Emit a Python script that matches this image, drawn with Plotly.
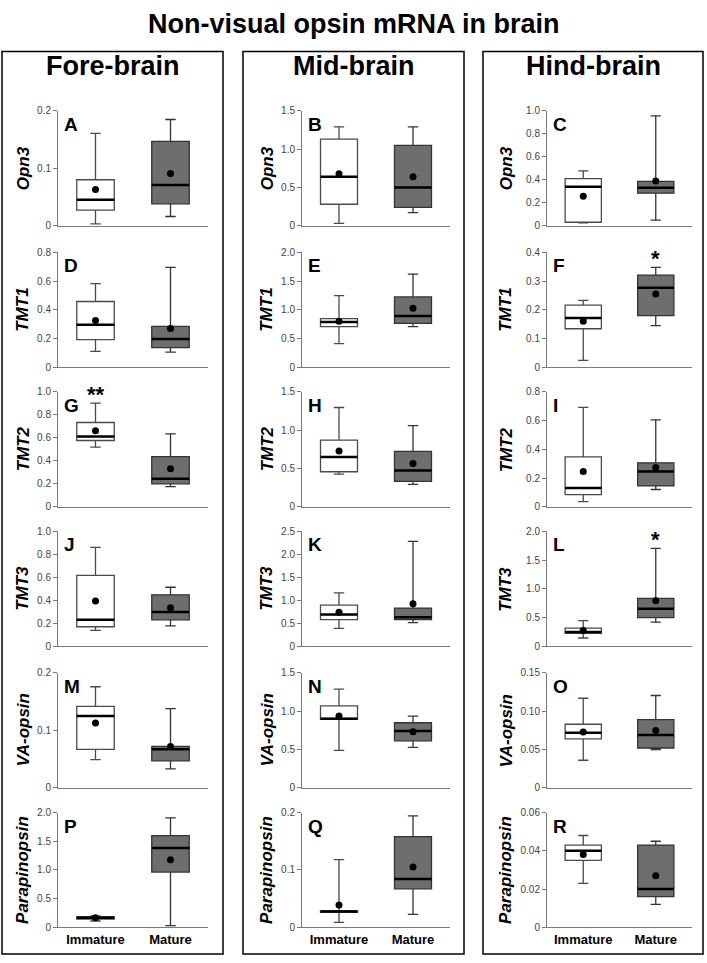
import plotly.graph_objects as go

W, H = 707, 963

# ---------------- data ----------------
regions = ["Fore-brain", "Mid-brain", "Hind-brain"]
genes = ["Opn3", "TMT1", "TMT2", "TMT3", "VA-opsin", "Parapinopsin"]
groups = ["Immature", "Mature"]
letters = [["A", "B", "C"], ["D", "E", "F"], ["G", "H", "I"],
           ["J", "K", "L"], ["M", "N", "O"], ["P", "Q", "R"]]

# each group: [lower whisker, Q1, median, Q3, upper whisker, mean]
A_fore_opn3 = [[0.003, 0.027, 0.045, 0.080, 0.161, 0.063], [0.016, 0.038, 0.071, 0.147, 0.185, 0.091]]
B_mid_opn3 = [[0.03, 0.28, 0.64, 1.13, 1.29, 0.68], [0.17, 0.24, 0.50, 1.05, 1.29, 0.64]]
C_hind_opn3 = [[0.025, 0.03, 0.34, 0.41, 0.477, 0.257], [0.049, 0.283, 0.331, 0.386, 0.957, 0.389]]
D_fore_tmt1 = [[0.11, 0.192, 0.295, 0.458, 0.583, 0.325], [0.105, 0.137, 0.197, 0.284, 0.696, 0.27]]
E_mid_tmt1 = [[0.41, 0.707, 0.787, 0.845, 1.247, 0.80], [0.707, 0.764, 0.891, 1.224, 1.62, 1.029]]
F_hind_tmt1 = [[0.024, 0.134, 0.171, 0.216, 0.233, 0.16], [0.145, 0.18, 0.277, 0.321, 0.348, 0.255]]
G_fore_tmt2 = [[0.52, 0.577, 0.611, 0.734, 0.903, 0.663], [0.175, 0.2, 0.243, 0.437, 0.634, 0.331]]
H_mid_tmt2 = [[0.427, 0.457, 0.651, 0.871, 1.297, 0.728], [0.293, 0.332, 0.474, 0.724, 1.06, 0.565]]
I_hind_tmt2 = [[0.035, 0.085, 0.13, 0.347, 0.692, 0.246], [0.12, 0.145, 0.246, 0.306, 0.605, 0.274]]
J_fore_tmt3 = [[0.138, 0.17, 0.23, 0.618, 0.862, 0.394], [0.178, 0.23, 0.299, 0.448, 0.514, 0.336]]
K_mid_tmt3 = [[0.388, 0.582, 0.69, 0.898, 1.164, 0.74], [0.517, 0.582, 0.632, 0.833, 2.284, 0.927]]
L_hind_tmt3 = [[0.144, 0.224, 0.247, 0.316, 0.448, 0.276], [0.42, 0.5, 0.655, 0.833, 1.707, 0.793]]
M_fore_va = [[0.049, 0.067, 0.125, 0.142, 0.176, 0.113], [0.033, 0.047, 0.067, 0.072, 0.138, 0.072]]
N_mid_va = [[0.49, 0.893, 0.902, 1.07, 1.29, 0.937], [0.527, 0.613, 0.742, 0.85, 0.937, 0.733]]
O_hind_va = [[0.036, 0.064, 0.072, 0.083, 0.117, 0.073], [0.05, 0.052, 0.069, 0.089, 0.1206, 0.075]]
P_fore_para = [[0.11, 0.144, 0.167, 0.184, 0.2, 0.167], [0.029, 0.963, 1.383, 1.597, 1.908, 1.176]]
Q_mid_para = [[0.0086, 0.026, 0.0277, 0.029, 0.118, 0.039], [0.0225, 0.067, 0.084, 0.158, 0.194, 0.105]]
R_hind_para = [[0.023, 0.035, 0.040, 0.043, 0.048, 0.038], [0.012, 0.016, 0.020, 0.043, 0.045, 0.027]]

panels = [[A_fore_opn3, B_mid_opn3, C_hind_opn3],
          [D_fore_tmt1, E_mid_tmt1, F_hind_tmt1],
          [G_fore_tmt2, H_mid_tmt2, I_hind_tmt2],
          [J_fore_tmt3, K_mid_tmt3, L_hind_tmt3],
          [M_fore_va, N_mid_va, O_hind_va],
          [P_fore_para, Q_mid_para, R_hind_para]]

# y tick labels per panel
yticks = [[["0", "0.1", "0.2"], ["0", "0.5", "1.0", "1.5"], ["0", "0.2", "0.4", "0.6", "0.8", "1.0"]],
          [["0", "0.2", "0.4", "0.6", "0.8"], ["0", "0.5", "1.0", "1.5", "2.0"], ["0", "0.1", "0.2", "0.3", "0.4"]],
          [["0", "0.2", "0.4", "0.6", "0.8", "1.0"], ["0", "0.5", "1.0", "1.5"], ["0", "0.2", "0.4", "0.6", "0.8"]],
          [["0", "0.2", "0.4", "0.6", "0.8", "1.0"], ["0", "0.5", "1.0", "1.5", "2.0", "2.5"], ["0", "0.5", "1.0", "1.5", "2.0"]],
          [["0", "0.1", "0.2"], ["0", "0.5", "1.0", "1.5"], ["0", "0.05", "0.10", "0.15"]],
          [["0", "0.5", "1.0", "1.5", "2.0"], ["0", "0.1", "0.2"], ["0", "0.02", "0.04", "0.06"]]]

# significance marks: (row, col, group index, text)
signif = [(2, 0, 0, "**"), (1, 2, 1, "*"), (3, 2, 1, "*")]

# ---------------- layout geometry (pixels) ----------------
col_x = [(58, 208), (302, 450), (547, 692)]
row_y = [(107, 223), (250, 366), (391, 507), (532, 648), (675, 791), (816, 932)]
frames = [(2, 223), (243, 464), (483, 703)]
frame_y = (47, 959)
ytitle_x = [23, 267, 506]


def px(x):
    return x / W


def py(y):
    return 1 - y / H


fill = ["white", "#6e6e6e"]
edge = ["#4a4a4a", "#333333"]
axis_col = "#7a7a7a"

fig = go.Figure()
layout = {}
annotations = []
shapes = []

for r in range(6):
    for c in range(3):
        k = r * 3 + c + 1
        xa = "x" if k == 1 else f"x{k}"
        ya = "y" if k == 1 else f"y{k}"
        stats = panels[r][c]
        for g in range(2):
            lo, q1, med, q3, hi, mean = stats[g]
            fig.add_trace(go.Box(
                x=[g], lowerfence=[lo], q1=[q1], median=[med], q3=[q3], upperfence=[hi],
                width=0.5, whiskerwidth=0.28, fillcolor=fill[g],
                line=dict(color=edge[g], width=1.3), boxpoints=False,
                xaxis=xa, yaxis=ya, showlegend=False, hoverinfo="skip"))
            fig.add_trace(go.Scatter(
                x=[g - 0.25, g + 0.25], y=[med, med], mode="lines",
                line=dict(color="black", width=2.5), xaxis=xa, yaxis=ya,
                showlegend=False, hoverinfo="skip"))
            fig.add_trace(go.Scatter(
                x=[g], y=[mean], mode="markers",
                marker=dict(color="black", size=7), xaxis=xa, yaxis=ya,
                showlegend=False, hoverinfo="skip"))
        tt = yticks[r][c]
        tv = [float(t) for t in tt]
        x0, x1 = col_x[c]
        y0, y1 = row_y[r]
        layout[("xaxis" if k == 1 else f"xaxis{k}")] = dict(
            domain=[px(x0), px(x1)], range=[-0.5, 1.5], anchor=ya,
            showline=True, linecolor=axis_col, linewidth=1, ticks="",
            tickvals=[0, 1], ticktext=[f"<b>{g}</b>" for g in groups],
            showticklabels=(r == 5), tickfont=dict(family="Liberation Sans", size=13, color="black"),
            showgrid=False, zeroline=False, fixedrange=True)
        layout[("yaxis" if k == 1 else f"yaxis{k}")] = dict(
            domain=[py(y1), py(y0)], range=[0, tv[-1]], anchor=xa,
            showline=True, linecolor=axis_col, linewidth=1, ticks="outside",
            ticklen=4, tickcolor=axis_col, tickvals=tv, ticktext=tt,
            tickfont=dict(family="Liberation Sans", size=10, color="#444444"),
            showgrid=False, zeroline=False, fixedrange=True)
        # panel letter
        annotations.append(dict(
            text=f"<b>{letters[r][c]}</b>", xref="paper", yref="paper",
            x=px(x0 + 4), y=py(y0 + 1), xanchor="left", yanchor="top",
            showarrow=False, font=dict(family="Liberation Sans", size=19, color="black")))
        # y title
        annotations.append(dict(
            text=f"<b><i>{genes[r]}</i></b>", xref="paper", yref="paper",
            x=px(ytitle_x[c]), y=py((y0 + y1) / 2), textangle=-90,
            xanchor="center", yanchor="middle", showarrow=False,
            font=dict(family="Liberation Sans", size=17, color="black")))

for (r, c, g, txt) in signif:
    k = r * 3 + c + 1
    xa = "x" if k == 1 else f"x{k}"
    ya = "y" if k == 1 else f"y{k}"
    annotations.append(dict(
        text=f"<b>{txt}</b>", xref=xa, yref=ya, x=g, y=panels[r][c][g][4],
        yshift=9, xanchor="center", yanchor="middle", showarrow=False,
        font=dict(family="Liberation Sans", size=22, color="black")))

# column frames and titles
for c in range(3):
    fx0, fx1 = frames[c]
    shapes.append(dict(type="rect", xref="paper", yref="paper",
                       x0=px(fx0), x1=px(fx1), y0=py(frame_y[1]), y1=py(frame_y[0]),
                       line=dict(color="black", width=1.5), fillcolor="rgba(0,0,0,0)"))
    annotations.append(dict(
        text=f"<b>{regions[c]}</b>", xref="paper", yref="paper",
        x=px((fx0 + fx1) / 2), y=py(62), xanchor="center", yanchor="middle",
        showarrow=False, font=dict(family="Liberation Sans", size=27, color="black")))

annotations.append(dict(
    text="<b>Non-visual opsin mRNA in brain</b>", xref="paper", yref="paper",
    x=0.5, y=py(19), xanchor="center", yanchor="middle", showarrow=False,
    font=dict(family="Liberation Sans", size=27, color="black")))

fig.update_layout(
    width=W, height=H, margin=dict(l=0, r=0, t=0, b=0),
    paper_bgcolor="white", plot_bgcolor="white",
    annotations=annotations, shapes=shapes, showlegend=False, **layout)

fig.write_html("out.html", config={"displayModeBar": False},
               post_script="document.body.style.margin='0px';document.body.style.overflow='hidden';")
